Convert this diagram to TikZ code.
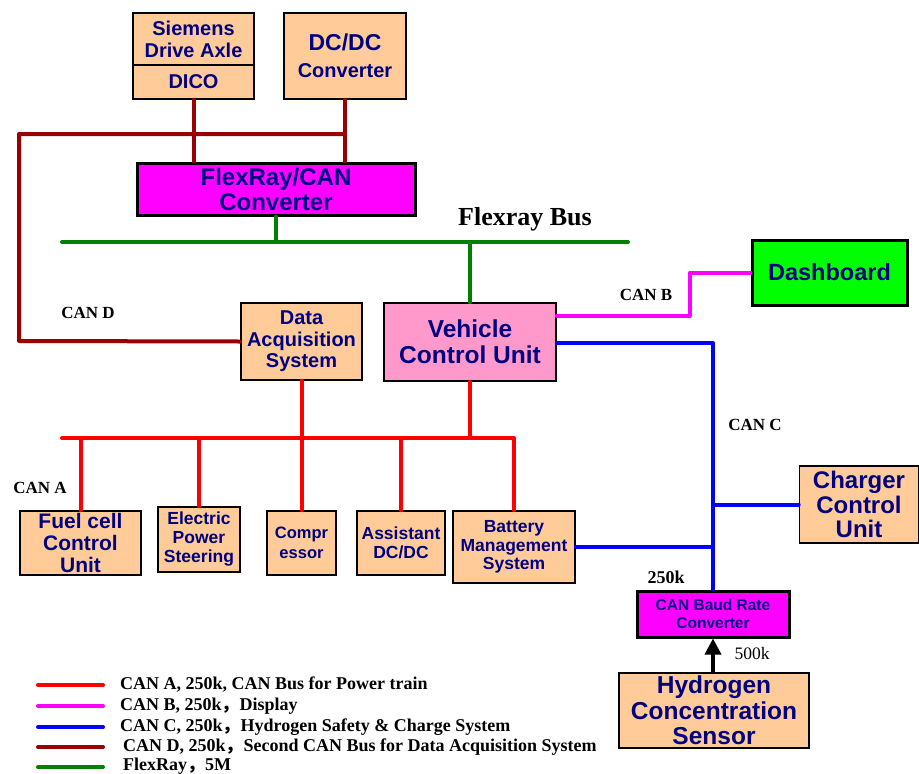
\documentclass[tikz,border=0pt]{standalone}
\usepackage{fontspec}
\setmainfont{Liberation Serif}
\setsansfont{Liberation Sans}
\newfontfamily\cjk{Noto Sans CJK SC}
\usetikzlibrary{arrows.meta}
\definecolor{navy}{HTML}{000080}
\definecolor{orangebox}{HTML}{FFCC99}
\definecolor{pinkbox}{HTML}{FF99CC}
\definecolor{magbox}{HTML}{FF00FF}
\definecolor{greenbox}{HTML}{00FF00}
\definecolor{canA}{HTML}{FF0000}
\definecolor{canB}{HTML}{FF00FF}
\definecolor{canC}{HTML}{0000FF}
\definecolor{canD}{HTML}{990000}
\definecolor{flexg}{HTML}{008000}
\newcommand{\fs}[2]{\fontsize{#1}{#2}\selectfont}
\tikzset{
  box/.style={draw=black, line width=1.6pt, fill=orangebox, inner sep=0pt, align=center,
    text=navy, font=\sffamily\bfseries},
  thickbox/.style={box, line width=3pt},
  txt/.style={inner sep=0pt, align=center, text=navy, font=\sffamily\bfseries},
  lbl/.style={inner sep=0pt, font=\bfseries},
  bus/.style={line width=4pt, line cap=round, line join=round},
}
\begin{document}
\begin{tikzpicture}[x=1pt,y=-1pt]
\useasboundingbox (0,0) rectangle (919,774);
% top boxes
\node[box, minimum width=121pt, minimum height=86pt] (siem) at (193.5,56) {};
\draw[line width=1.6pt] (133,65) -- (254,65);
\node[txt, font=\sffamily\bfseries\fs{20}{22}] (siemt) at (193.5,39) {Siemens\\Drive Axle};
\node[txt, font=\sffamily\bfseries\fs{20}{22}] (dico) at (193.5,82) {DICO};
\node[box, minimum width=122pt, minimum height=86pt, font=\sffamily\bfseries\fs{20}{27}] (dcdc) at (345,56)
  {\fontsize{23}{27}\selectfont DC/DC\\Converter};
\node[thickbox, fill=magbox, minimum width=278pt, minimum height=52pt, font=\sffamily\bfseries\fs{24}{25}] (frc) at (276,189)
  {FlexRay/CAN\\Converter};
% middle boxes
\node[box, fill=pinkbox, minimum width=172pt, minimum height=78pt, font=\sffamily\bfseries\fs{24.5}{26}] (vcu) at (470,342)
  {Vehicle\\Control Unit};
\node[box, minimum width=121pt, minimum height=77pt, font=\sffamily\bfseries\fs{20}{21.5}] (das) at (301.5,341.5)
  {Data\\Acquisition\\System};
\node[thickbox, fill=greenbox, minimum width=155pt, minimum height=65pt, font=\sffamily\bfseries\fs{23.5}{25}] (dash) at (829.5,272.5)
  {Dashboard};
\node[box, minimum width=119pt, minimum height=77pt, font=\sffamily\bfseries\fs{24}{24.5}] (charger) at (859,504.5)
  {Charger\\Control\\Unit};
\node[thickbox, fill=magbox, minimum width=152pt, minimum height=46pt, font=\sffamily\bfseries\fs{15.5}{18}] (baud) at (713,614)
  {CAN Baud Rate\\Converter};
\node[box, minimum width=190pt, minimum height=75pt, font=\sffamily\bfseries\fs{24.5}{25.5}] (hyd) at (714,710.5)
  {Hydrogen\\Concentration\\Sensor};
% CAN A boxes
\node[box, minimum width=121pt, minimum height=64pt, font=\sffamily\bfseries\fs{21}{22}] (fuel) at (80.5,543)
  {Fuel cell\\Control\\Unit};
\node[box, minimum width=82pt, minimum height=65pt, font=\sffamily\bfseries\fs{17.5}{19}] (eps) at (199,539.5)
  {Electric\\Power\\Steering};
\node[box, minimum width=69pt, minimum height=64pt, font=\sffamily\bfseries\fs{16.5}{19.5}] (comp) at (301.5,543)
  {Compr\\essor};
\node[box, minimum width=88pt, minimum height=64pt, font=\sffamily\bfseries\fs{17.5}{19}] (asst) at (401,543)
  {Assistant\\DC/DC};
\node[box, minimum width=122pt, minimum height=72pt, font=\sffamily\bfseries\fs{17.5}{18.5}] (bms) at (514,547)
  {Battery\\Management\\System};
% bus coordinates
\coordinate (fb1) at (62,242);
\coordinate (fb2) at (628,242);
\coordinate (ra1) at (62,438);
\coordinate (dl) at (19,134);
\coordinate (dr) at (345,134);
\coordinate (dd) at (19,341);
\coordinate (mb1) at (690,316);
\coordinate (mb2) at (690,272.5);
\coordinate (cb1) at (713,343);
% CAN D (maroon)
\draw[bus, canD] (siem.south) -- (siem.south |- frc.north);
\draw[bus, canD] (dcdc.south) -- (dcdc.south |- frc.north);
\draw[bus, canD] (dr) -- (dl) -- (dd) -- (das.west);
% FlexRay (green)
\draw[bus, flexg] (fb1) -- (fb2);
\draw[bus, flexg] (frc.south) -- (frc.south |- fb1);
\draw[bus, flexg] (vcu.north) -- (vcu.north |- fb1);
% CAN A (red)
\draw[bus, canA] (ra1) -- (bms.north |- ra1) -- (bms.north);
\draw[bus, canA] (vcu.south) -- (vcu.south |- ra1);
\draw[bus, canA] (das.south) -- (das.south |- ra1);
\draw[bus, canA] (fuel.north) -- (fuel.north |- ra1);
\draw[bus, canA] (eps.north) -- (eps.north |- ra1);
\draw[bus, canA] (comp.north) -- (comp.north |- ra1);
\draw[bus, canA] (asst.north) -- (asst.north |- ra1);
% CAN B (magenta)
\draw[bus, canB] (vcu.east |- mb1) -- (mb1) -- (mb2) -- (dash.west);
% CAN C (blue)
\draw[bus, canC] (vcu.east |- cb1) -- (cb1) -- (baud.north);
\draw[bus, canC] (cb1 |- charger.west) -- (charger.west);
\draw[bus, canC] (bms.east) -- (cb1 |- bms.east);
% arrow
\draw[line width=3.5pt, -{Triangle[length=16pt, width=16pt]}] (baud.south |- hyd.north) -- (baud.south);
% labels
\node[lbl, font=\bfseries\fs{26}{28}] (flexlbl) at (525,219) {Flexray Bus};
\node[lbl, font=\bfseries\fs{17}{19}] (candl) at (88,313) {CAN D};
\node[lbl, font=\bfseries\fs{17}{19}] (canbl) at (646,295) {CAN B};
\node[lbl, font=\bfseries\fs{17}{19}] (cancl) at (755,425) {CAN C};
\node[lbl, font=\bfseries\fs{17}{19}] (canal) at (40,488) {CAN A};
\node[lbl, font=\bfseries\fs{18}{19}] (k250) at (666,577) {250k};
\node[inner sep=0pt, font=\fs{17.5}{19}] (k500) at (752,654) {500k};
% legend
\foreach \yy/\cc/\nn in {685/canA/la, 706/canB/lb, 727/canC/lc, 747/canD/ld, 767/flexg/le}{
  \coordinate (\nn1) at (38,\yy);
  \coordinate (\nn2) at (103,\yy);
  \draw[bus, \cc] (\nn1) -- (\nn2);
}
\node[lbl, anchor=west, font=\bfseries\fs{18}{19}] (lta) at (120,685) {CAN A, 250k, CAN Bus for Power train};
\node[lbl, anchor=west, font=\bfseries\fs{18}{19}] (ltb) at (120,706) {CAN B, 250k{\cjk ，}Display};
\node[lbl, anchor=west, font=\bfseries\fs{18}{19}] (ltc) at (120,727) {CAN C, 250k{\cjk ，}Hydrogen Safety \& Charge System};
\node[lbl, anchor=west, font=\bfseries\fs{18}{19}] (ltd) at (123,747) {CAN D, 250k{\cjk ，}Second CAN Bus for Data Acquisition System};
\node[lbl, anchor=west, font=\bfseries\fs{18}{19}] (lte) at (123,766) {FlexRay{\cjk ，}5M};
\end{tikzpicture}
\end{document}
